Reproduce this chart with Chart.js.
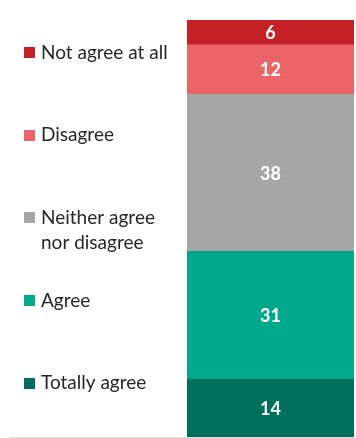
<!DOCTYPE html>
<html>
<head>
<meta charset="utf-8">
<script src="https://cdn.jsdelivr.net/npm/chart.js@4"></script>
<style>
html,body{margin:0;padding:0;background:#fff;}
#wrap{position:relative;width:356px;height:438px;}
</style>
</head>
<body>
<div id="wrap"><canvas id="c" width="356" height="438"></canvas></div>
<script>
const categories = [''];
const seriesNames = ['Totally agree', 'Agree', 'Neither agree nor disagree', 'Disagree', 'Not agree at all'];
const legendLines = [['Totally agree'], ['Agree'], ['Neither agree', 'nor disagree'], ['Disagree'], ['Not agree at all']];
const totallyAgree = [14];
const agree = [31];
const neither = [38];
const disagree = [12];
const notAgree = [6];
const colors = ['#00705C', '#00A98B', '#A6A6A6', '#EB6468', '#C52026'];

const values = [totallyAgree, agree, neither, disagree, notAgree];
const FONT = "Lato, 'Open Sans', sans-serif";

const labelPlugin = {
  id: 'segLabels',
  afterDatasetsDraw(chart) {
    const ctx = chart.ctx;
    ctx.save();
    ctx.fillStyle = '#fff';
    ctx.font = "bold 18px " + FONT;
    ctx.textAlign = 'center';
    ctx.textBaseline = 'middle';
    chart.data.datasets.forEach((ds, i) => {
      const meta = chart.getDatasetMeta(i);
      meta.data.forEach((bar, j) => {
        const p = bar.getProps(['x', 'y', 'base'], true);
        ctx.fillText(String(ds.data[j]), p.x, (p.y + p.base) / 2 + 1);
      });
    });
    ctx.restore();
  }
};

const legendPlugin = {
  id: 'sideLegend',
  afterDraw(chart) {
    const ctx = chart.ctx;
    const area = chart.chartArea;
    const h = area.bottom - area.top;
    ctx.save();
    // bottom axis line
    ctx.strokeStyle = '#D9D9D9';
    ctx.lineWidth = 1;
    ctx.beginPath();
    ctx.moveTo(10, area.bottom + 0.5);
    ctx.lineTo(area.right, area.bottom + 0.5);
    ctx.stroke();
    ctx.font = "19px " + FONT;
    ctx.textBaseline = 'middle';
    ctx.textAlign = 'left';
    const n = seriesNames.length;
    const first = area.top + h * 0.078;
    const step = h * 0.1983;
    for (let k = 0; k < n; k++) {
      const i = n - 1 - k; // top to bottom
      const yc = first + step * k;
      ctx.fillStyle = chart.data.datasets[i].backgroundColor;
      ctx.fillRect(24, Math.round(yc - 5.5), 11, 11);
      ctx.fillStyle = '#262626';
      legendLines[i].forEach((line, li) => {
        ctx.fillText(line, 41, yc + li * 25);
      });
    }
    ctx.restore();
  }
};

new Chart(document.getElementById('c'), {
  type: 'bar',
  data: {
    labels: categories,
    datasets: seriesNames.map((name, i) => ({
      label: name,
      data: values[i],
      backgroundColor: colors[i],
      borderWidth: 0,
      barPercentage: 1,
      categoryPercentage: 1
    }))
  },
  options: {
    responsive: false,
    animation: false,
    devicePixelRatio: 1,
    layout: { padding: { left: 187, right: 2, top: 20, bottom: 1 } },
    plugins: { legend: { display: false }, tooltip: { enabled: false } },
    scales: {
      x: { stacked: true, display: false },
      y: { stacked: true, display: false, min: 0, max: 101 }
    }
  },
  plugins: [labelPlugin, legendPlugin]
});
</script>
</body>
</html>
